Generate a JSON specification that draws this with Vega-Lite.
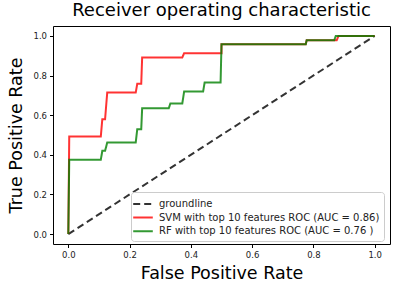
{
  "$schema": "https://vega.github.io/schema/vega-lite/v6.json",
  "autosize": "none",
  "width": 337,
  "height": 218,
  "padding": {"left": 53, "top": 26, "right": 6, "bottom": 46},
  "background": "white",
  "config": {
    "font": "DejaVu Sans",
    "view": {"stroke": "black", "strokeWidth": 1},
    "axis": {"grid": false, "domain": false, "tickColor": "black", "tickSize": 3.5, "labelFont": "DejaVu Sans", "labelFontSize": 8.5, "labelColor": "#222", "titleFont": "DejaVu Sans", "titleFontWeight": "normal", "titleFontSize": 17.5, "titleColor": "black", "labelPadding": 3}
  },
  "title": {"text": "Receiver operating characteristic", "fontSize": 18, "fontWeight": "normal", "font": "DejaVu Sans", "color": "black", "anchor": "middle", "offset": 6},
  "data": {"values": [
    {"series": "groundline", "i": 0, "fpr": 0, "tpr": 0},
    {"series": "groundline", "i": 1, "fpr": 1, "tpr": 1},
    {"series": "SVM with top 10 features ROC (AUC = 0.86)", "i": 0, "fpr": 0, "tpr": 0},
    {"series": "SVM with top 10 features ROC (AUC = 0.86)", "i": 1, "fpr": 0.003, "tpr": 0.492},
    {"series": "SVM with top 10 features ROC (AUC = 0.86)", "i": 2, "fpr": 0.106, "tpr": 0.492},
    {"series": "SVM with top 10 features ROC (AUC = 0.86)", "i": 3, "fpr": 0.111, "tpr": 0.58},
    {"series": "SVM with top 10 features ROC (AUC = 0.86)", "i": 4, "fpr": 0.12, "tpr": 0.58},
    {"series": "SVM with top 10 features ROC (AUC = 0.86)", "i": 5, "fpr": 0.127, "tpr": 0.714},
    {"series": "SVM with top 10 features ROC (AUC = 0.86)", "i": 6, "fpr": 0.22, "tpr": 0.714},
    {"series": "SVM with top 10 features ROC (AUC = 0.86)", "i": 7, "fpr": 0.225, "tpr": 0.758},
    {"series": "SVM with top 10 features ROC (AUC = 0.86)", "i": 8, "fpr": 0.238, "tpr": 0.758},
    {"series": "SVM with top 10 features ROC (AUC = 0.86)", "i": 9, "fpr": 0.241, "tpr": 0.891},
    {"series": "SVM with top 10 features ROC (AUC = 0.86)", "i": 10, "fpr": 0.372, "tpr": 0.891},
    {"series": "SVM with top 10 features ROC (AUC = 0.86)", "i": 11, "fpr": 0.378, "tpr": 0.913},
    {"series": "SVM with top 10 features ROC (AUC = 0.86)", "i": 12, "fpr": 0.5, "tpr": 0.913},
    {"series": "SVM with top 10 features ROC (AUC = 0.86)", "i": 13, "fpr": 0.5, "tpr": 0.958},
    {"series": "SVM with top 10 features ROC (AUC = 0.86)", "i": 14, "fpr": 0.775, "tpr": 0.958},
    {"series": "SVM with top 10 features ROC (AUC = 0.86)", "i": 15, "fpr": 0.778, "tpr": 0.978},
    {"series": "SVM with top 10 features ROC (AUC = 0.86)", "i": 16, "fpr": 0.876, "tpr": 0.978},
    {"series": "SVM with top 10 features ROC (AUC = 0.86)", "i": 17, "fpr": 0.882, "tpr": 1.0},
    {"series": "SVM with top 10 features ROC (AUC = 0.86)", "i": 18, "fpr": 1.0, "tpr": 1.0},
    {"series": "RF with top 10 features ROC (AUC = 0.76 )", "i": 0, "fpr": 0, "tpr": 0},
    {"series": "RF with top 10 features ROC (AUC = 0.76 )", "i": 1, "fpr": 0.003, "tpr": 0.375},
    {"series": "RF with top 10 features ROC (AUC = 0.76 )", "i": 2, "fpr": 0.106, "tpr": 0.375},
    {"series": "RF with top 10 features ROC (AUC = 0.76 )", "i": 3, "fpr": 0.111, "tpr": 0.42},
    {"series": "RF with top 10 features ROC (AUC = 0.76 )", "i": 4, "fpr": 0.12, "tpr": 0.42},
    {"series": "RF with top 10 features ROC (AUC = 0.76 )", "i": 5, "fpr": 0.127, "tpr": 0.462},
    {"series": "RF with top 10 features ROC (AUC = 0.76 )", "i": 6, "fpr": 0.22, "tpr": 0.462},
    {"series": "RF with top 10 features ROC (AUC = 0.76 )", "i": 7, "fpr": 0.225, "tpr": 0.529},
    {"series": "RF with top 10 features ROC (AUC = 0.76 )", "i": 8, "fpr": 0.238, "tpr": 0.529},
    {"series": "RF with top 10 features ROC (AUC = 0.76 )", "i": 9, "fpr": 0.241, "tpr": 0.635},
    {"series": "RF with top 10 features ROC (AUC = 0.76 )", "i": 10, "fpr": 0.328, "tpr": 0.635},
    {"series": "RF with top 10 features ROC (AUC = 0.76 )", "i": 11, "fpr": 0.333, "tpr": 0.659},
    {"series": "RF with top 10 features ROC (AUC = 0.76 )", "i": 12, "fpr": 0.372, "tpr": 0.659},
    {"series": "RF with top 10 features ROC (AUC = 0.76 )", "i": 13, "fpr": 0.378, "tpr": 0.719},
    {"series": "RF with top 10 features ROC (AUC = 0.76 )", "i": 14, "fpr": 0.44, "tpr": 0.719},
    {"series": "RF with top 10 features ROC (AUC = 0.76 )", "i": 15, "fpr": 0.445, "tpr": 0.765},
    {"series": "RF with top 10 features ROC (AUC = 0.76 )", "i": 16, "fpr": 0.497, "tpr": 0.765},
    {"series": "RF with top 10 features ROC (AUC = 0.76 )", "i": 17, "fpr": 0.5, "tpr": 0.958},
    {"series": "RF with top 10 features ROC (AUC = 0.76 )", "i": 18, "fpr": 0.775, "tpr": 0.958},
    {"series": "RF with top 10 features ROC (AUC = 0.76 )", "i": 19, "fpr": 0.778, "tpr": 0.978},
    {"series": "RF with top 10 features ROC (AUC = 0.76 )", "i": 20, "fpr": 0.868, "tpr": 0.978},
    {"series": "RF with top 10 features ROC (AUC = 0.76 )", "i": 21, "fpr": 0.873, "tpr": 1.0},
    {"series": "RF with top 10 features ROC (AUC = 0.76 )", "i": 22, "fpr": 1.0, "tpr": 1.0}
  ]},
  "mark": {"type": "line", "strokeWidth": 2, "opacity": 0.8},
  "encoding": {
    "x": {"field": "fpr", "type": "quantitative", "title": "False Positive Rate", "scale": {"domain": [-0.05, 1.05], "nice": false, "zero": false}, "axis": {"values": [0, 0.2, 0.4, 0.6, 0.8, 1.0], "format": ".1f", "titlePadding": 5}},
    "y": {"field": "tpr", "type": "quantitative", "title": "True Positive Rate", "scale": {"domain": [-0.05, 1.05], "nice": false, "zero": false}, "axis": {"values": [0, 0.2, 0.4, 0.6, 0.8, 1.0], "format": ".1f", "titlePadding": 7}},
    "order": {"field": "i", "type": "quantitative"},
    "color": {"field": "series", "type": "nominal", "title": null,
      "scale": {"domain": ["groundline", "SVM with top 10 features ROC (AUC = 0.86)", "RF with top 10 features ROC (AUC = 0.76 )"], "range": ["black", "red", "green"]},
      "legend": {"orient": "none", "legendX": 78, "legendY": 166, "symbolType": "M-1.4,0H1.4", "symbolSize": 196, "symbolStrokeWidth": 2, "symbolOpacity": 0.8, "labelFontSize": 10, "labelLimit": 0, "labelFont": "DejaVu Sans", "labelColor": "#222", "labelOffset": 8, "rowPadding": 0.6, "padding": 4, "strokeColor": "#ccc", "cornerRadius": 3, "fillColor": "white"}},
    "strokeDash": {"field": "series", "type": "nominal", "title": null,
      "scale": {"domain": ["groundline", "SVM with top 10 features ROC (AUC = 0.86)", "RF with top 10 features ROC (AUC = 0.76 )"], "range": [[7, 4], [1, 0], [1, 0]]},
      "legend": {"orient": "none", "legendX": 78, "legendY": 166, "symbolType": "M-1.4,0H1.4", "symbolSize": 196, "symbolStrokeWidth": 2, "symbolOpacity": 0.8, "labelFontSize": 10, "labelLimit": 0, "labelFont": "DejaVu Sans", "labelColor": "#222", "labelOffset": 8, "rowPadding": 0.6, "padding": 4, "strokeColor": "#ccc", "cornerRadius": 3, "fillColor": "white"}}
  }
}
